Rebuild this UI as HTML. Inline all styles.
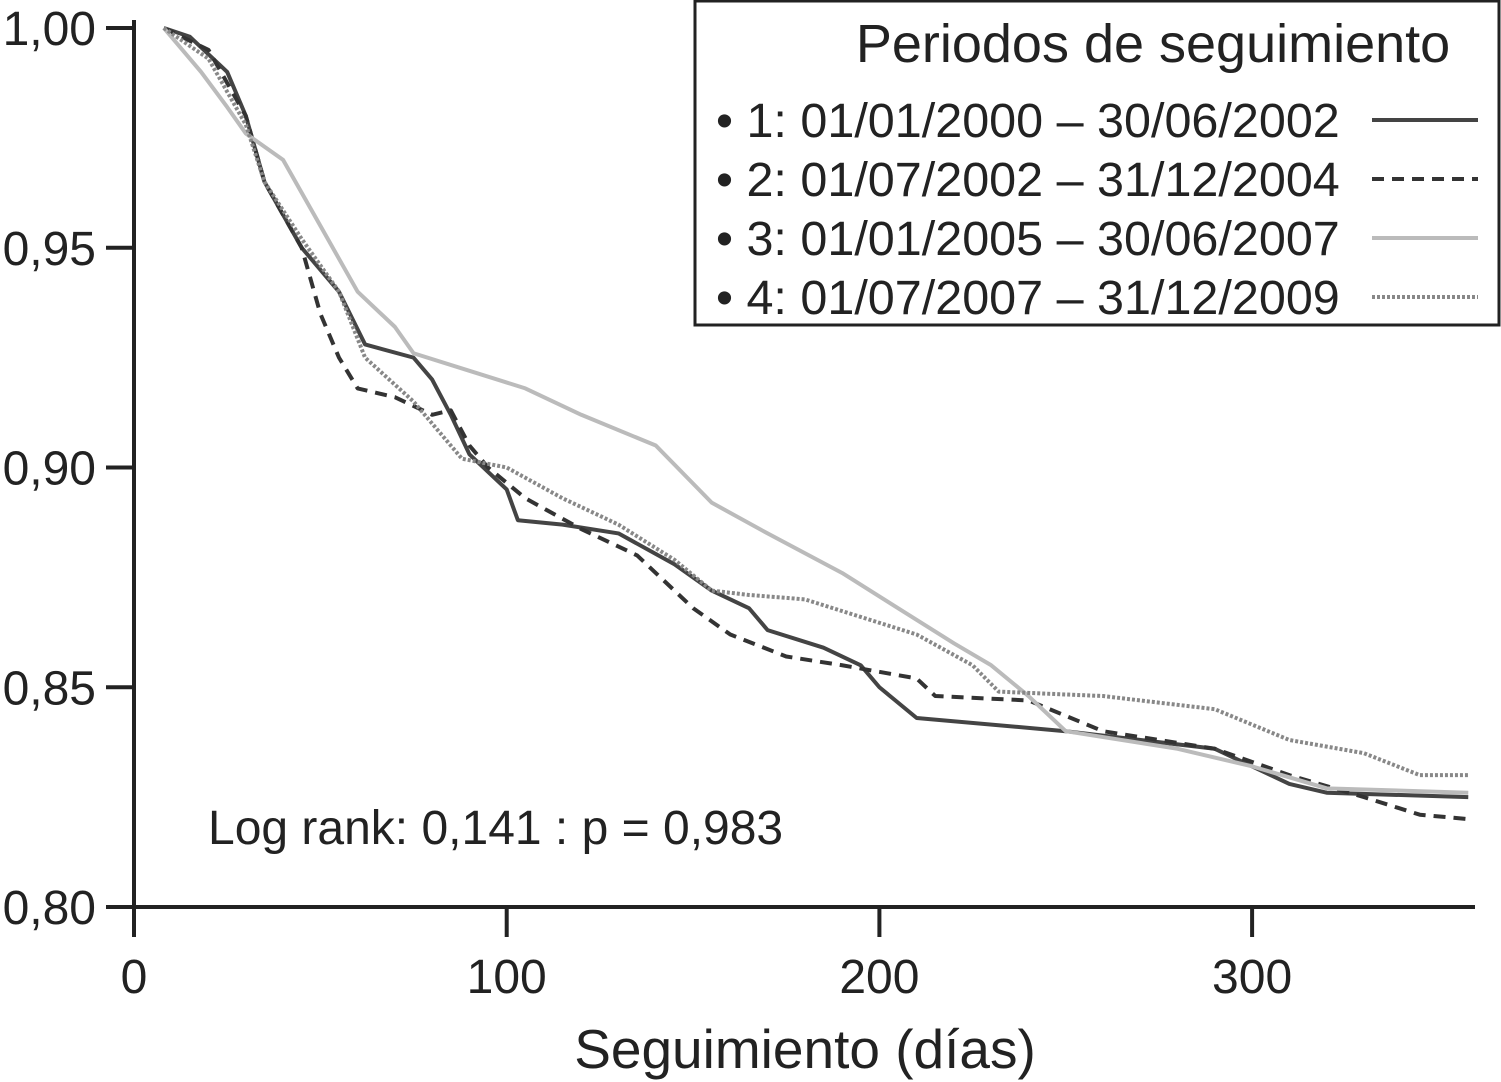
<!DOCTYPE html>
<html><head><meta charset="utf-8"><style>
body{margin:0;background:#fff;}
svg{display:block;font-family:"Liberation Sans",Arial,sans-serif;}
</style></head><body>
<svg id="chart" width="1501" height="1082" viewBox="0 0 1501 1082">
<g id="axes"></g>
<g id="series"></g>
<text x="208" y="844" font-size="48" fill="#222">Log rank: 0,141 : p = 0,983</text>
<text x="805" y="1068" font-size="55" fill="#222" text-anchor="middle">Seguimiento (días)</text>
<g>
<rect x="695" y="1" width="804" height="324" fill="#fff" stroke="#222" stroke-width="3"/>
<text x="1153" y="62" font-size="54" fill="#222" text-anchor="middle">Periodos de seguimiento</text>
<g id="legend-items"></g>
</g>
</svg>
<script>
const xTicks=[0,100,200,300];
const yTicks=[0.80,0.85,0.90,0.95,1.00];
const yTickLabels=["0,80","0,85","0,90","0,95","1,00"];
const seriesLabels=["• 1: 01/01/2000 – 30/06/2002","• 2: 01/07/2002 – 31/12/2004","• 3: 01/01/2005 – 30/06/2007","• 4: 01/07/2007 – 31/12/2009"];
const s1Days=[8,15,25,30,35,45,55,62,75,80,85,90,100,103,115,130,145,155,165,170,185,195,200,210,250,290,310,320,358];
const s1Surv=[1.0,0.998,0.99,0.98,0.965,0.95,0.94,0.928,0.925,0.92,0.912,0.903,0.895,0.888,0.887,0.885,0.878,0.872,0.868,0.863,0.859,0.855,0.85,0.843,0.84,0.836,0.828,0.826,0.825];
const s2Days=[8,20,30,35,45,50,55,60,70,80,85,90,95,105,120,135,150,160,175,190,210,215,240,260,290,310,330,345,358];
const s2Surv=[1.0,0.995,0.98,0.965,0.95,0.935,0.925,0.918,0.916,0.912,0.913,0.905,0.9,0.893,0.886,0.88,0.868,0.862,0.857,0.855,0.852,0.848,0.847,0.84,0.836,0.83,0.825,0.821,0.82];
const s3Days=[8,18,25,30,40,50,60,70,75,90,105,120,140,155,170,190,205,220,230,240,250,280,300,320,358];
const s3Surv=[1.0,0.99,0.982,0.976,0.97,0.955,0.94,0.932,0.926,0.922,0.918,0.912,0.905,0.892,0.885,0.876,0.868,0.86,0.855,0.848,0.84,0.836,0.832,0.827,0.826];
const s4Days=[8,20,30,35,45,55,62,75,80,88,100,115,130,145,155,165,180,195,210,225,232,260,290,310,330,345,358];
const s4Surv=[1.0,0.993,0.978,0.965,0.952,0.94,0.925,0.915,0.91,0.902,0.9,0.893,0.887,0.879,0.872,0.871,0.87,0.866,0.862,0.855,0.849,0.848,0.845,0.838,0.835,0.83,0.83];
const X=d=>134+d*3.727;
const Y=v=>907-(v-0.8)*4395;
const NS="http://www.w3.org/2000/svg";
function mk(tag,attrs,parent){const e=document.createElementNS(NS,tag);for(const k in attrs)e.setAttribute(k,attrs[k]);parent.appendChild(e);return e;}
const ax=document.getElementById('axes');
let l=mk('line',{x1:134,y1:20,x2:134,y2:937,stroke:'#222','stroke-width':4},ax);


l=mk('line',{x1:106,y1:907,x2:1475,y2:907,stroke:'#222','stroke-width':4},ax);


yTicks.forEach((v,i)=>{
 const t=mk('line',{x1:106,y1:Y(v),x2:134,y2:Y(v),stroke:'#222','stroke-width':4},ax);
 
 
 const tx=mk('text',{x:96,y:Y(v)+17,'font-size':48,fill:'#222','text-anchor':'end'},ax);
 tx.textContent=yTickLabels[i];
 
 
});
xTicks.forEach(d=>{
 const t=mk('line',{x1:X(d),y1:907,x2:X(d),y2:937,stroke:'#222','stroke-width':4},ax);
 
 
 const tx=mk('text',{x:X(d),y:993,'font-size':48,fill:'#222','text-anchor':'middle'},ax);
 tx.textContent=String(d);
 
 
});
const styles=[{c:'#444',w:4,d:''},{c:'#333',w:4,d:'12,8'},{c:'#bbb',w:4,d:''},{c:'#888',w:4,d:'3,2'}];
const data=[[s1Days,s1Surv],[s2Days,s2Surv],[s3Days,s3Surv],[s4Days,s4Surv]];
const sg=document.getElementById('series');
const lg=document.getElementById('legend-items');
data.forEach((s,i)=>{
 let dstr='';
 s[0].forEach((d,j)=>{
  dstr+=(j===0?'M':'L')+X(d)+','+Y(s[1][j]);
 });
 const p=mk('path',{d:dstr,fill:'none',stroke:styles[i].c,'stroke-width':styles[i].w,'stroke-dasharray':styles[i].d,'stroke-linejoin':'round'},sg);
 
 
 const yy=120+i*59;
 const tx=mk('text',{x:716,y:yy+17,'font-size':48.5,fill:'#222'},lg);
 tx.textContent=seriesLabels[i];
 
 
 const ln=mk('line',{x1:1372,y1:yy,x2:1478,y2:yy,stroke:styles[i].c,'stroke-width':4,'stroke-dasharray':styles[i].d},lg);
 
 
});
</script>
</body></html>
